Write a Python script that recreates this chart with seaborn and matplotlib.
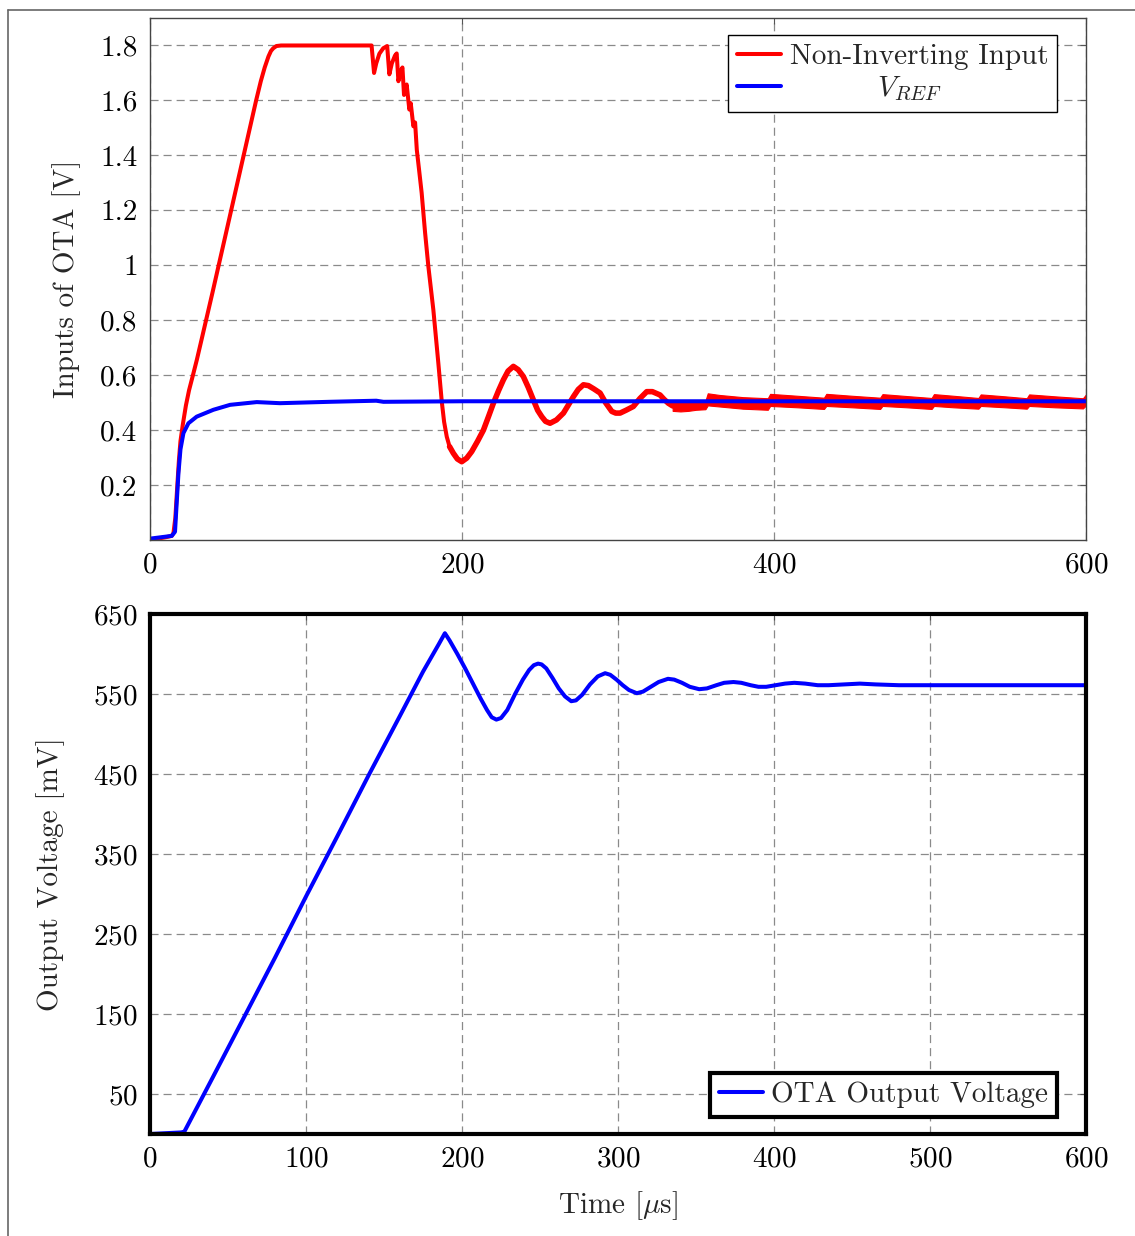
import matplotlib
matplotlib.use('Agg')
import matplotlib.pyplot as plt
import seaborn as sns
import pandas as pd
from matplotlib.lines import Line2D

# ---------------- data ----------------
# Top panel: non-inverting input of the OTA [V] vs time [us]
nin_t = [0, 5, 10, 13.9, 15, 16.2, 17.5, 18.5, 19.5, 21, 23, 25, 27.5, 30, 33, 40, 50, 60,
         68, 71, 73.5, 75.9, 77.5, 79, 81, 84, 142, 143.6, 145, 147, 149.5, 152, 153.4,
         155, 157, 158.1, 159.2, 160.5, 161.8, 162.8, 164.5, 166.2, 167.1, 168.8, 169.9,
         171, 172.6, 174.1, 176.3, 178.4, 181.6, 184.8, 187, 188.5, 190.2, 192, 194.4, 197,
         199.8, 203, 206.2, 210, 213.7, 217, 220.1, 223.5, 226.5, 229.5, 232.9, 236, 239.3,
         242.5, 245.7, 248.5, 251.1, 253.5, 256.4, 260.5, 265, 268, 271.4, 274.5, 277.8,
         281, 284.5, 288.5, 292, 296, 298.5, 301.3, 305, 309.8, 314, 318.4, 322, 326.9,
         329.5, 332.2, 335, 339.7]
nin_v = [0.0, 0.005, 0.01, 0.015, 0.025, 0.08, 0.2, 0.29, 0.36, 0.42, 0.49, 0.545, 0.60,
         0.656, 0.729, 0.90, 1.15, 1.40, 1.60, 1.67, 1.72, 1.76, 1.78, 1.79, 1.798, 1.80,
         1.80, 1.70, 1.735, 1.77, 1.79, 1.798, 1.695, 1.735, 1.763, 1.771, 1.67, 1.705,
         1.72, 1.62, 1.658, 1.567, 1.59, 1.506, 1.52, 1.42, 1.34, 1.264, 1.119, 0.996,
         0.838, 0.644, 0.504, 0.43, 0.376, 0.34, 0.316, 0.295, 0.285, 0.298, 0.322, 0.36,
         0.40, 0.45, 0.498, 0.545, 0.583, 0.615, 0.632, 0.62, 0.595, 0.555, 0.51, 0.472,
         0.449, 0.432, 0.425, 0.437, 0.462, 0.49, 0.522, 0.548, 0.565, 0.562, 0.55, 0.535,
         0.50, 0.468, 0.462, 0.462, 0.472, 0.486, 0.515, 0.54, 0.54, 0.528, 0.512, 0.498,
         0.488, 0.486]

# noisy band of the non-inverting input in the settled region
band_t = [335, 340, 345, 350, 356, 357.5, 365, 380, 396, 397.5, 415, 432, 433.5, 450, 468,
          469.5, 485, 501, 502.5, 515, 531, 532.5, 548, 562, 563.5, 580, 598, 600]
band_hi = [0.505, 0.503, 0.505, 0.506, 0.507, 0.534, 0.528, 0.520, 0.516, 0.532, 0.525,
           0.518, 0.532, 0.525, 0.518, 0.531, 0.524, 0.517, 0.531, 0.525, 0.517, 0.530,
           0.523, 0.516, 0.530, 0.523, 0.516, 0.530]
band_lo = [0.470, 0.468, 0.470, 0.474, 0.476, 0.490, 0.486, 0.478, 0.474, 0.488, 0.483,
           0.477, 0.488, 0.483, 0.477, 0.488, 0.483, 0.477, 0.488, 0.483, 0.478, 0.488,
           0.483, 0.478, 0.488, 0.483, 0.479, 0.490]

# V_REF [V]
ref_t = [0, 13.9, 16, 18.2, 19.5, 21.4, 24.6, 29.9, 40.6, 51.3, 68.4, 83.3, 115, 145,
         149.6, 200, 400, 600]
ref_v = [0.005, 0.015, 0.03, 0.243, 0.33, 0.389, 0.425, 0.449, 0.474, 0.492, 0.502,
         0.498, 0.503, 0.507, 0.503, 0.505, 0.505, 0.505]

# Bottom panel: OTA output voltage [mV]
out_t = [0, 10, 20, 22, 40, 60, 80, 100, 120, 140, 160, 175, 185, 189, 192, 197, 202,
         207, 212, 216, 219, 222, 225, 229, 234, 239, 243, 246, 248.7, 251, 254, 258, 262,
         266, 270, 273, 277, 282, 287, 291.7, 295, 299, 303, 307, 312, 316, 321, 326, 332,
         336, 341, 346, 352, 357, 363, 368, 374, 379, 385, 390, 395, 401, 407, 413, 420,
         428, 435, 445, 455, 465, 480, 500, 520, 550, 600]
out_v = [0, 1, 2, 3, 70, 145, 220, 297, 372, 448, 522, 578, 612, 626, 617, 600, 582, 563,
         544, 530, 521, 518, 520, 530, 550, 568, 580, 586, 588, 587, 582, 570, 557, 547,
         541, 542, 549, 562, 572, 576, 574, 568, 561, 555, 551, 553, 559, 565, 569, 568,
         564, 559, 556, 557, 561, 564, 565, 564, 561, 559, 559, 561, 563, 564, 563, 561,
         561, 562, 563, 562, 561, 561, 561, 561, 561]

top_yticks = [0.2, 0.4, 0.6, 0.8, 1.0, 1.2, 1.4, 1.6, 1.8]
top_yticklabels = ['0.2', '0.4', '0.6', '0.8', '1', '1.2', '1.4', '1.6', '1.8']
top_xticks = [0, 200, 400, 600]
bot_yticks = [50, 150, 250, 350, 450, 550, 650]
bot_xticks = [0, 100, 200, 300, 400, 500, 600]

# ---------------- style ----------------
sns.set_style('white')
plt.rcParams['font.family'] = ['cmr10', 'DejaVu Serif']
plt.rcParams['mathtext.fontset'] = 'cm'
plt.rcParams['axes.formatter.use_mathtext'] = True
plt.rcParams['lines.scale_dashes'] = False

FS = 21
RED = '#ff0000'
BLUE = '#0000ff'

fig = plt.figure(figsize=(11.35, 12.36), dpi=100)
fig.patch.set_facecolor('white')

# outer page frame
fig.add_artist(Line2D([0.007, 1.0], [0.9919, 0.9919], transform=fig.transFigure,
                      color='#666666', lw=1.2))
fig.add_artist(Line2D([0.007, 0.007], [0.0, 0.9919], transform=fig.transFigure,
                      color='#666666', lw=1.2))

ax1 = fig.add_axes([0.1322, 0.5631, 0.82467, 0.42233])
ax2 = fig.add_axes([0.1322, 0.08252, 0.82467, 0.42071])

grid_kw = dict(linestyle=(0, (5.8, 3.6)), color='#8a8a8a', linewidth=0.9)

# ---------- top ----------
df_nin = pd.DataFrame({'t': nin_t, 'v': nin_v})
df_ref = pd.DataFrame({'t': ref_t, 'v': ref_v})
sns.lineplot(data=df_nin, x='t', y='v', ax=ax1, color=RED, linewidth=2.9, legend=False)
sns.lineplot(data=df_nin[df_nin['t'] >= 192], x='t', y='v', ax=ax1, color=RED,
             linewidth=4.0, legend=False)
ax1.fill_between(band_t, band_lo, band_hi, color=RED, linewidth=0.8)
sns.lineplot(data=df_ref, x='t', y='v', ax=ax1, color=BLUE, linewidth=2.9, legend=False)

ax1.set_xlim(0, 600)
ax1.set_ylim(0, 1.9)
ax1.set_xticks(top_xticks)
ax1.set_yticks(top_yticks)
ax1.set_yticklabels(top_yticklabels)
ax1.grid(True, **grid_kw)
ax1.set_axisbelow(True)
for s in ax1.spines.values():
    s.set_color('#444444')
    s.set_linewidth(1.0)
ax1.tick_params(direction='in', length=4, width=0.8, color='#555555', top=True,
                right=True, labelsize=FS, pad=9, labelcolor='black')
ax1.set_xlabel('')
ax1.set_ylabel('Inputs of OTA [V]', fontsize=FS, labelpad=14)

h1 = [Line2D([], [], color=RED, lw=2.9), Line2D([], [], color=BLUE, lw=2.9)]
leg1 = ax1.legend(h1, ['Non-Inverting Input', '         $V_{REF}$'], loc='upper right',
                  bbox_to_anchor=(0.969, 0.967), borderaxespad=0, fontsize=FS,
                  frameon=True, fancybox=False, framealpha=1, edgecolor='black',
                  handlelength=1.5, handletextpad=0.3, borderpad=0.3, labelspacing=0.15)
leg1.get_frame().set_linewidth(1.0)

# ---------- bottom ----------
df_out = pd.DataFrame({'t': out_t, 'v': out_v})
sns.lineplot(data=df_out, x='t', y='v', ax=ax2, color=BLUE, linewidth=2.9, legend=False)
ax2.set_xlim(0, 600)
ax2.set_ylim(0, 650)
ax2.set_xticks(bot_xticks)
ax2.set_yticks(bot_yticks)
ax2.grid(True, **grid_kw)
ax2.set_axisbelow(True)
for s in ax2.spines.values():
    s.set_color('black')
    s.set_linewidth(3.0)
ax2.tick_params(direction='in', length=4, width=0.8, color='#555555', top=True,
                right=True, labelsize=FS, pad=9, labelcolor='black')
ax2.set_xlabel(r'Time [$\mu$s]', fontsize=FS, labelpad=12)
ax2.set_ylabel('Output Voltage [mV]', fontsize=FS, labelpad=20)

h2 = [Line2D([], [], color=BLUE, lw=2.9)]
leg2 = ax2.legend(h2, ['OTA Output Voltage'], loc='lower right',
                  bbox_to_anchor=(0.969, 0.0327), borderaxespad=0, fontsize=FS,
                  frameon=True, fancybox=False, framealpha=1, edgecolor='black',
                  handlelength=1.5, handletextpad=0.3, borderpad=0.3)
leg2.get_frame().set_linewidth(3.0)

fig.savefig('out.png', dpi=100)
